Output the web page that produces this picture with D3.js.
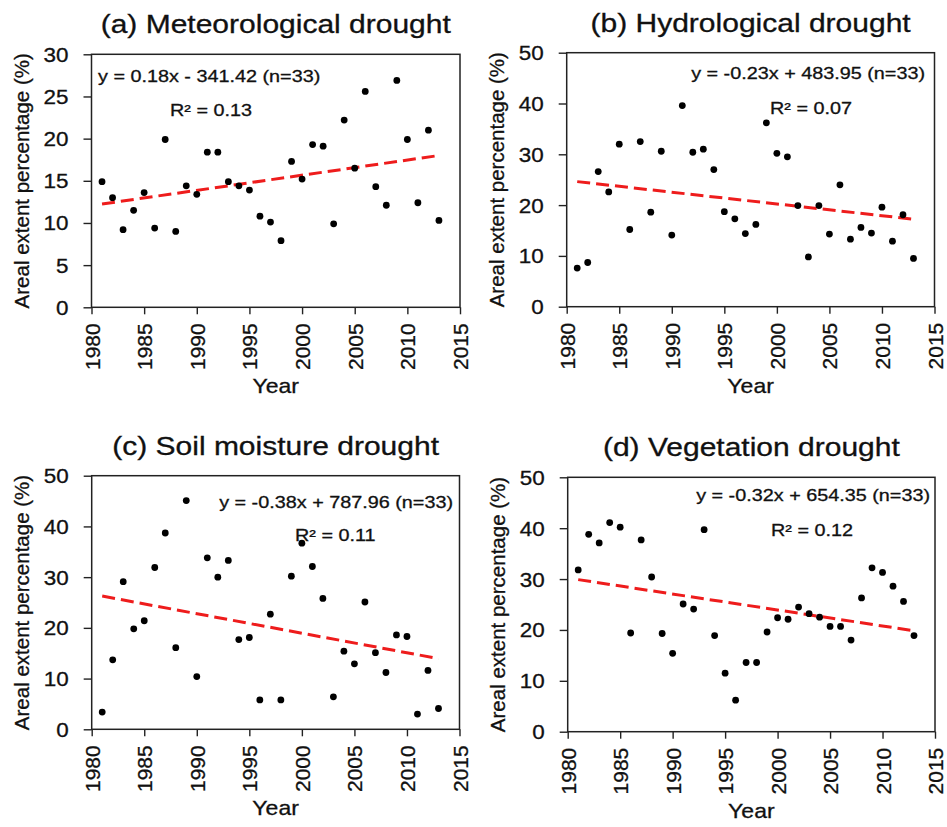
<!DOCTYPE html>
<html>
<head>
<meta charset="utf-8">
<script src="https://cdn.jsdelivr.net/npm/d3@7"></script>
<style>
  body { margin: 0; background: #fff; }
  svg { display: block; }
  text { font-family: "Liberation Sans", Arial, sans-serif; fill: #111; stroke: #111; stroke-width: 0.3px; }
</style>
</head>
<body>
<div id="chart"></div>
<script>
// values, one per year 1981-2013
const years = [1981, 1982, 1983, 1984, 1985, 1986, 1987, 1988, 1989, 1990, 1991,
  1992, 1993, 1994, 1995, 1996, 1997, 1998, 1999, 2000, 2001, 2002,
  2003, 2004, 2005, 2006, 2007, 2008, 2009, 2010, 2011, 2012, 2013];

const meteoValues = [14.9, 13.0, 9.2, 11.5, 13.6, 9.4, 19.9, 9.0, 14.4, 13.4, 18.4,
  18.4, 14.9, 14.4, 13.9, 10.8, 10.1, 7.9, 17.3, 15.2, 19.3, 19.1,
  9.9, 22.2, 16.5, 25.6, 14.3, 12.1, 26.9, 19.9, 12.4, 21.0, 10.3];

const hydroValues = [7.6, 8.7, 26.6, 22.6, 32.0, 15.2, 32.5, 18.6, 30.6, 14.1, 39.6,
  30.4, 31.0, 27.0, 18.7, 17.3, 14.4, 16.2, 36.2, 30.2, 29.5, 19.9,
  9.8, 19.9, 14.3, 24.0, 13.3, 15.6, 14.5, 19.6, 12.9, 18.1, 9.5];

const soilValues = [3.4, 13.7, 29.1, 19.8, 21.4, 31.9, 38.7, 16.1, 45.1, 10.4, 33.8,
  30.0, 33.3, 17.7, 18.1, 5.8, 22.7, 5.8, 30.2, 36.7, 32.1, 25.8,
  6.4, 15.4, 12.9, 25.1, 15.1, 11.2, 18.6, 18.3, 3.0, 11.6, 4.1];

const vegValues = [31.8, 38.8, 37.1, 41.1, 40.2, 19.4, 37.7, 30.4, 19.3, 15.4, 25.1,
  24.1, 39.7, 18.9, 11.5, 6.2, 13.6, 13.6, 19.6, 22.4, 22.1, 24.5,
  23.2, 22.5, 20.7, 20.7, 18.0, 26.3, 32.2, 31.3, 28.6, 25.6, 18.9];

const titles = ["(a) Meteorological drought", "(b) Hydrological drought",
  "(c) Soil moisture drought", "(d) Vegetation drought"];
const equations = ["y = 0.18x - 341.42 (n=33)", "y = -0.23x + 483.95 (n=33)",
  "y = -0.38x + 787.96 (n=33)", "y = -0.32x + 654.35 (n=33)"];
const r2Labels = ["R\u00b2 = 0.13", "R\u00b2 = 0.07", "R\u00b2 = 0.11", "R\u00b2 = 0.12"];

const xTicks = [1980, 1985, 1990, 1995, 2000, 2005, 2010, 2015];
const yTicks30 = [0, 5, 10, 15, 20, 25, 30];
const yTicks50 = [0, 10, 20, 30, 40, 50];

const yLabelText = "Areal extent percentage (%)";
const xLabelText = "Year";

// pixel boxes of the four plot frames plus text placement
const panels = [
  { values: meteoValues, yTicks: yTicks30, left: 91.5, right: 460, top: 54.3, bottom: 307.3,
    eq: { x: 98, y: 82, anchor: "start" }, r2: { x: 211, y: 116, anchor: "middle" } },
  { values: hydroValues, yTicks: yTicks50, left: 566.7, right: 934.5, top: 52.7, bottom: 306.7,
    eq: { x: 925, y: 79, anchor: "end" }, r2: { x: 770, y: 114, anchor: "start" } },
  { values: soilValues, yTicks: yTicks50, left: 91.7, right: 459.5, top: 475.7, bottom: 729.3,
    eq: { x: 453, y: 508, anchor: "end" }, r2: { x: 295, y: 541, anchor: "start" } },
  { values: vegValues, yTicks: yTicks50, left: 567.7, right: 935, top: 477.3, bottom: 731.7,
    eq: { x: 930, y: 501, anchor: "end" }, r2: { x: 771, y: 536, anchor: "start" } }
];

const svg = d3.select("#chart")
  .append("svg")
  .attr("width", 947)
  .attr("height", 827);

// horizontal text in the figure is a bit wider than plain Arial
function stretchedText(g, x, y, text, size, sx, anchor) {
  return g.append("text")
    .attr("transform", "translate(" + x + "," + y + ") scale(" + sx + ",1)")
    .attr("text-anchor", anchor)
    .style("font-size", size + "px")
    .text(text);
}

function fitLine(xs, ys) {
  let mx = d3.mean(xs), my = d3.mean(ys);
  let sxy = d3.sum(xs, (x, i) => (x - mx) * (ys[i] - my));
  let sxx = d3.sum(xs, x => (x - mx) * (x - mx));
  let slope = sxy / sxx;
  return x => my + slope * (x - mx);
}

panels.forEach((p, i) => {
  let g = svg.append("g");

  let xScale = d3.scaleLinear().domain([1980, 2015]).range([p.left, p.right]);
  let yScale = d3.scaleLinear().domain([0, d3.max(p.yTicks)]).range([p.bottom, p.top]);

  // y axis
  let yAxis = g.append("g")
    .attr("transform", "translate(" + p.left + ",0)")
    .call(d3.axisLeft(yScale).tickValues(p.yTicks).tickSize(8).tickSizeOuter(0));
  yAxis.select(".domain").remove();
  yAxis.selectAll("line").attr("stroke", "#222").attr("stroke-width", 1.4);
  yAxis.selectAll("text")
    .attr("x", null)
    .attr("dy", null)
    .attr("transform", "translate(-23,7) scale(1.15,1)")
    .style("font-size", "19.5px")
    .style("font-family", "'Liberation Sans', Arial, sans-serif")
    .attr("fill", "#111");

  // x axis with upright year labels
  let xAxis = g.append("g")
    .attr("transform", "translate(0," + p.bottom + ")")
    .call(d3.axisBottom(xScale).tickValues(xTicks).tickFormat(d3.format("d")).tickSize(7).tickSizeOuter(0));
  xAxis.select(".domain").remove();
  xAxis.selectAll("line").attr("stroke", "#222").attr("stroke-width", 1.4);
  xAxis.selectAll("text")
    .attr("transform", "rotate(-90)")
    .attr("x", -16)
    .attr("y", 0)
    .attr("dy", "0.36em")
    .style("text-anchor", "end")
    .style("font-size", "21px")
    .style("font-family", "'Liberation Sans', Arial, sans-serif")
    .attr("fill", "#111");

  // frame
  g.append("rect")
    .attr("x", p.left)
    .attr("y", p.top)
    .attr("width", p.right - p.left)
    .attr("height", p.bottom - p.top)
    .attr("fill", "none")
    .attr("stroke", "#222")
    .attr("stroke-width", 1.5);

  // trend line from least squares on the points
  let trend = fitLine(years, p.values);
  let ends = [years[0], years[years.length - 1]];
  g.append("path")
    .datum(ends)
    .attr("d", d3.line().x(d => xScale(d)).y(d => yScale(trend(d))))
    .attr("fill", "none")
    .attr("stroke", "#ee1c1c")
    .attr("stroke-width", 3)
    .attr("stroke-dasharray", "13,6");

  g.selectAll(".point")
    .data(p.values)
    .enter()
    .append("circle")
    .attr("class", "point")
    .attr("cx", (d, j) => xScale(years[j]))
    .attr("cy", d => yScale(d))
    .attr("r", 3.4)
    .attr("fill", "#000");

  // labels
  let cx = (p.left + p.right) / 2;
  stretchedText(g, cx, p.top - 21, titles[i], 25, 1.2, "middle");
  stretchedText(g, p.eq.x, p.eq.y, equations[i], 16.5, 1.2, p.eq.anchor);
  stretchedText(g, p.r2.x, p.r2.y, r2Labels[i], 16.5, 1.2, p.r2.anchor);
  stretchedText(g, cx, p.bottom + 86, xLabelText, 20, 1.15, "middle");

  g.append("text")
    .attr("transform", "translate(" + (p.left - 63) + "," + ((p.top + p.bottom) / 2) + ") rotate(-90)")
    .attr("text-anchor", "middle")
    .style("font-size", "20.5px")
    .text(yLabelText);
});
</script>
</body>
</html>
